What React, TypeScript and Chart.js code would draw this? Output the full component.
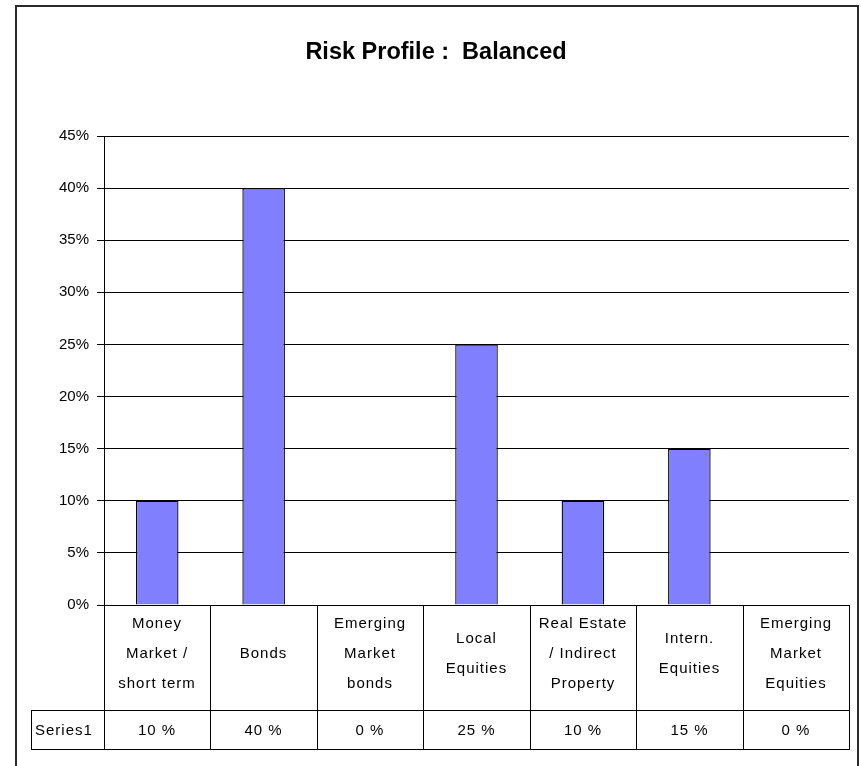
import React, { useEffect, useRef } from "react";
import { Chart, registerables } from "chart.js";

Chart.register(...registerables);

const chartTitle = "Risk Profile :  Balanced";
// Category names, already split into the lines shown in the data table
const categoryLines: string[][] = [
  ["Money", "Market /", "short term"],
  ["Bonds"],
  ["Emerging", "Market", "bonds"],
  ["Local", "Equities"],
  ["Real Estate", "/ Indirect", "Property"],
  ["Intern.", "Equities"],
  ["Emerging", "Market", "Equities"],
];
const seriesName = "Series1";
const allocation = [10, 40, 0, 25, 10, 15, 0];
const axisMax = 45;
const axisStep = 5;

const FONT = '"Liberation Sans", Arial, sans-serif';
const W = 861;
const H = 766;

// Outer frame + white background
const framePlugin = {
  id: "frame",
  beforeDraw(chart: any) {
    const { ctx } = chart;
    ctx.save();
    ctx.fillStyle = "#fff";
    ctx.fillRect(0, 0, chart.width, chart.height);
    ctx.strokeStyle = "#2a2a2a";
    ctx.lineWidth = 2;
    ctx.strokeRect(16, 6, 842, 800);
    ctx.restore();
  },
};

// Data table under the plot: category header row and the value row
const dataTablePlugin = {
  id: "dataTable",
  afterDraw(chart: any) {
    const { ctx, chartArea } = chart;
    const x = chart.scales.x;
    const n = allocation.length;
    const top = chartArea.bottom;
    const rowSplit = 710;
    const bottom = 749;
    const nameLeft = 31;
    const edges: number[] = [];
    for (let i = 0; i <= n; i++) edges.push(Math.round(x.getPixelForValue(i - 0.5)));

    ctx.save();
    ctx.strokeStyle = "#000";
    ctx.lineWidth = 1;
    ctx.beginPath();
    ctx.moveTo(edges[0], top + 0.5);
    ctx.lineTo(edges[n], top + 0.5);
    ctx.moveTo(nameLeft, rowSplit + 0.5);
    ctx.lineTo(edges[n], rowSplit + 0.5);
    ctx.moveTo(nameLeft, bottom + 0.5);
    ctx.lineTo(edges[n], bottom + 0.5);
    for (const e of edges) {
      ctx.moveTo(e + 0.5, top);
      ctx.lineTo(e + 0.5, bottom + 1);
    }
    ctx.moveTo(nameLeft + 0.5, rowSplit);
    ctx.lineTo(nameLeft + 0.5, bottom + 1);
    ctx.stroke();

    ctx.fillStyle = "#000";
    ctx.font = `15px ${FONT}`;
    (ctx as any).letterSpacing = "1px";
    ctx.textBaseline = "middle";
    ctx.textAlign = "center";
    const lineH = 30;
    const headCenter = 654;
    categoryLines.forEach((lines, i) => {
      const cx = (edges[i] + edges[i + 1]) / 2;
      const y0 = headCenter - ((lines.length - 1) * lineH) / 2;
      lines.forEach((t, k) => ctx.fillText(t, cx, y0 + k * lineH));
      ctx.fillText(`${allocation[i]} %`, cx, (rowSplit + bottom) / 2 + 1);
    });
    ctx.textAlign = "left";
    ctx.fillText(seriesName, nameLeft + 4, (rowSplit + bottom) / 2 + 1);
    ctx.restore();
  },
};

export default function App() {
  const ref = useRef<HTMLCanvasElement | null>(null);

  useEffect(() => {
    if (!ref.current) return;
    const chart = new Chart(ref.current, {
      type: "bar",
      data: {
        labels: categoryLines.map((l) => l.join(" ")),
        datasets: [
          {
            label: seriesName,
            data: allocation,
            backgroundColor: "#8080FF",
            borderColor: "#000",
            borderWidth: 1.3,
            categoryPercentage: 1,
            barPercentage: 0.4,
          },
        ],
      },
      options: {
        animation: false,
        responsive: false,
        devicePixelRatio: 1,
        layout: { padding: { left: 23, right: 12, top: 0, bottom: 0 } },
        plugins: {
          legend: { display: false },
          tooltip: { enabled: false },
          title: {
            display: true,
            text: chartTitle,
            color: "#000",
            font: { family: FONT, size: 23.5, weight: "bold" },
            padding: { top: 38, bottom: 69.8 },
          },
        },
        scales: {
          x: {
            offset: true,
            grid: { display: false },
            border: { display: false },
            ticks: { display: false },
            afterFit(s: any) {
              s.height = 161;
            },
          },
          y: {
            min: 0,
            max: axisMax,
            ticks: {
              stepSize: axisStep,
              callback: (v: any) => `${v}%`,
              color: "#000",
              font: { family: FONT, size: 15 },
              padding: 8,
            },
            grid: { color: "#000", lineWidth: 1, tickLength: 7, drawTicks: true },
            border: { display: true, color: "#000", width: 1 },
            afterFit(s: any) {
              s.width = 81;
            },
          },
        },
      },
      plugins: [framePlugin, dataTablePlugin],
    });
    return () => chart.destroy();
  }, []);

  return (
    <div style={{ position: "fixed", left: 0, top: 0, width: W, height: H, background: "#fff" }}>
      <canvas ref={ref} width={W} height={H} style={{ display: "block" }} />
    </div>
  );
}
